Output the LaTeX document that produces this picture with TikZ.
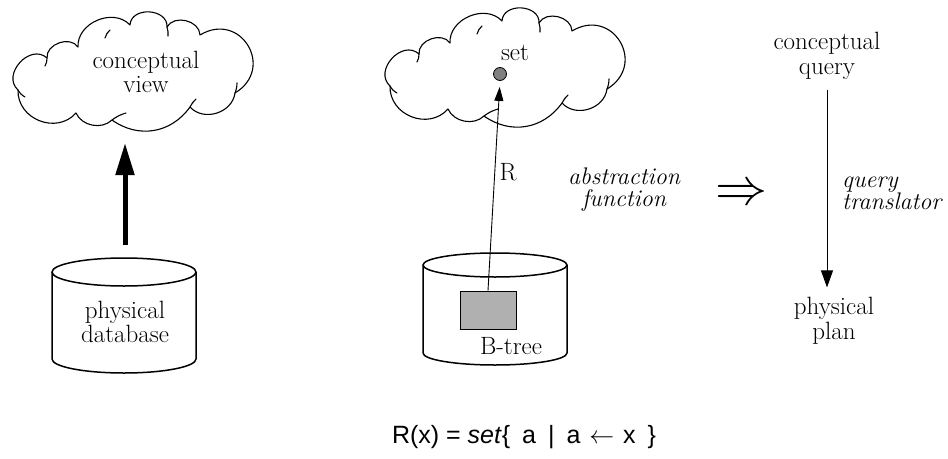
\documentclass[tikz,border=0pt]{standalone}
\usepackage{fontspec}
\newfontfamily\formulafont{Liberation Sans}
\usetikzlibrary{arrows.meta}
\definecolor{boxgray}{RGB}{176,176,176}
\definecolor{dotgray}{RGB}{128,128,128}
\tikzset{
  lbl/.style={font=\fontsize{25}{24.5}\selectfont, align=center, inner sep=0pt},
  ilbl/.style={lbl, font=\fontsize{24}{22}\selectfont\itshape},
  cloudline/.style={line width=1.1pt, line join=round, line cap=round},
  cylline/.style={line width=1.5pt},
  thinarrow/.style={line width=0.9pt},
  % hand-drawn cloud: ten puffs plus short inner strokes
  cloudpic/.pic={
    \draw[cloudline] (18,-90) to[bend left=90,looseness=1.35] (47,-58)
      to[bend left=75,looseness=1.1] (78,-47)
      to[bend left=70,looseness=1.1] (130,-25)
      to[bend left=90,looseness=1.3] (167,-27)
      to[bend left=75,looseness=1.1] (200,-35)
      to[bend left=90,looseness=1.8] (235,-93)
      to[bend left=65,looseness=1.1] (190,-107)
      to[bend left=45,looseness=1.05] (112,-120)
      to[bend left=55] (76,-113)
      to[bend left=70,looseness=1.2] (18,-90);
    \draw[cloudline] (18,-90) to[bend right=15] (25,-97);
    \draw[cloudline] (47,-58) to[bend left=15] (45,-66);
    \draw[cloudline] (105,-38) to[bend left=15] (110,-30);
    \draw[cloudline] (167,-27) to[bend left=10] (168,-36);
    \draw[cloudline] (235,-93) to[bend right=10] (237,-83);
    \draw[cloudline] (190,-107) to[bend left=10] (196,-99);
    \draw[cloudline] (112,-120) to[bend left=10] (126,-113);
  }
}
\begin{document}
\begin{tikzpicture}[x=1pt,y=1pt]
\useasboundingbox (0,0) rectangle (948,-458);

% left: conceptual view above the physical database
\pic at (0,0) {cloudpic};
\node[lbl] (cv) at (146,-72) {conceptual\\view};

\draw[cylline] (52,-272) -- (52,-359) arc[start angle=180,end angle=360,x radius=72,y radius=14] -- (196,-272);
\draw[cylline] (124,-272) ellipse[x radius=72,y radius=14];
\node[lbl] (pdb) at (125,-322) {physical\\database};

\coordinate (upfrom) at (125,-245);
\coordinate (upto) at (125,-143);
\draw[line width=5pt, -{Triangle[length=32pt,width=18pt]}] (upfrom) -- (upto);

% middle: a B-tree mapped by R onto a set
\pic at (372,4) {cloudpic};
\node[lbl] (setlbl) at (515,-53) {set};
\node[circle, draw, line width=0.8pt, fill=dotgray, minimum size=13pt, inner sep=0pt] (dot) at (500,-74) {};

\draw[cylline] (423,-265) -- (423,-353) arc[start angle=180,end angle=360,x radius=72,y radius=12] -- (567,-265);
\draw[cylline] (495,-265) ellipse[x radius=72,y radius=12];
\node[draw, line width=0.9pt, fill=boxgray, minimum width=56pt, minimum height=38pt, inner sep=0pt] (gb) at (488,-310) {};
\node[lbl] (bt) at (511,-346) {B-tree};

\draw[thinarrow, -{Triangle[length=14pt,width=9pt]}, shorten >=6pt] (gb.north) -- (dot.south);
\node[lbl] (rlbl) at (508,-172) {R};

\node[ilbl] (abs) at (624,-190) {abstraction\\function};
\node[inner sep=0pt] (impl) at (741,-195) {\scalebox{5.2}{$\Rightarrow$}};

% right: query translation
\node[lbl] (cq) at (827,-56) {conceptual\\query};
\node[lbl] (pp) at (834,-321) {physical\\plan};
\draw[thinarrow, -{Triangle[length=17pt,width=12pt]}, shorten <=10pt, shorten >=10pt] (cq.south) -- (cq.south |- pp.north);
\node[ilbl, align=left, anchor=west] (qt) at (842,-193) {query\\translator};

% formula
\node[inner sep=0pt, font=\formulafont\fontsize{25}{25}\selectfont] (fx) at (524,-437)
  {R(x) = \textit{set}\{\hspace{5pt} a\hspace{5pt} |\hspace{5pt} a\hspace{2pt} $\leftarrow$\hspace{2pt} x\hspace{5pt} \}};
\end{tikzpicture}
\end{document}
